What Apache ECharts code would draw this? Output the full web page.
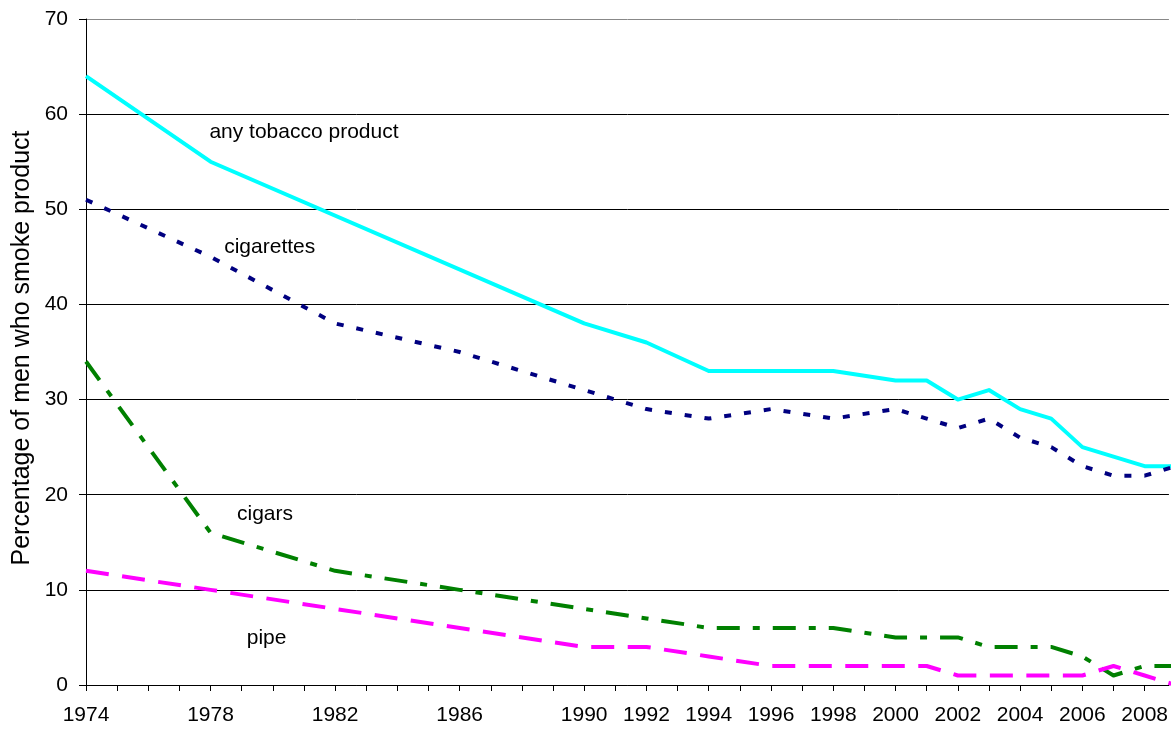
<!DOCTYPE html>
<html>
<head>
<meta charset="utf-8">
<script src="https://cdn.jsdelivr.net/npm/echarts@6/dist/echarts.min.js"></script>
<style>
  html, body { margin: 0; padding: 0; background: #fff; }
  #chart { width: 1171px; height: 729px; }
</style>
</head>
<body>
<div id="chart"></div>
<script>
// Share of men smoking each tobacco product, by survey year
const anyYears      = [1974, 1978, 1990, 1992, 1994, 1996, 1998, 2000, 2001, 2002, 2003, 2004, 2005, 2006, 2007, 2008, 2009];
const anyValues     = [64, 55, 38, 36, 33, 33, 33, 32, 32, 30, 31, 29, 28, 25, 24, 23, 23];

const cigaretteYears  = [1974, 1978, 1982, 1986, 1990, 1992, 1994, 1996, 1998, 2000, 2001, 2002, 2003, 2004, 2005, 2006, 2007, 2008, 2009];
const cigaretteValues = [51, 45, 38, 35, 31, 29, 28, 29, 28, 29, 28, 27, 28, 26, 25, 23, 22, 22, 23];

const cigarYears  = [1974, 1978, 1982, 1986, 1990, 1992, 1994, 1996, 1998, 2000, 2001, 2002, 2003, 2004, 2005, 2006, 2007, 2008, 2009];
const cigarValues = [34, 16, 12, 10, 8, 7, 6, 6, 6, 5, 5, 5, 4, 4, 4, 3, 1, 2, 2];

const pipeYears  = [1974, 1978, 1990, 1992, 1994, 1996, 1998, 2000, 2001, 2002, 2003, 2004, 2005, 2006, 2007, 2008, 2009];
const pipeValues = [12, 10, 4, 4, 3, 2, 2, 2, 2, 1, 1, 1, 1, 1, 2, 1, 0];

const seriesNames = ['any tobacco product', 'cigarettes', 'cigars', 'pipe'];
const yearLabels  = [1974, 1978, 1982, 1986, 1990, 1992, 1994, 1996, 1998, 2000, 2002, 2004, 2006, 2008];
const yTicks      = [0, 10, 20, 30, 40, 50, 60, 70];
const yTitle      = 'Percentage of men who smoke product';

const FONT = "'Liberation Sans', Arial, sans-serif";

function pairs(xs, ys) { return xs.map((x, i) => [x, ys[i]]); }

function lineSeries(name, xs, ys, color, dash) {
  return {
    name: name,
    type: 'line',
    data: pairs(xs, ys),
    symbol: 'none',
    clip: true,
    lineStyle: { color: color, width: 4, type: dash, cap: 'butt', join: 'round' },
    emphasis: { disabled: true }
  };
}

const chart = echarts.init(document.getElementById('chart'), null, { renderer: 'canvas' });

const option = {
  animation: false,
  backgroundColor: '#fff',
  grid: { left: 86, right: 0, top: 19, bottom: 44, containLabel: false },
  xAxis: {
    type: 'value',
    min: 1974,
    max: 2008.78,
    interval: 1,
    axisLine: { show: true, lineStyle: { color: '#000', width: 1 } },
    axisTick: { show: true, length: 6, lineStyle: { color: '#000' } },
    axisLabel: {
      margin: 20,
      fontFamily: FONT,
      fontSize: 21,
      color: '#000',
      showMaxLabel: false,
      formatter: v => (yearLabels.indexOf(v) >= 0 ? String(v) : '')
    },
    splitLine: { show: false }
  },
  yAxis: {
    type: 'value',
    min: yTicks[0],
    max: yTicks[yTicks.length - 1],
    interval: 10,
    axisLine: { show: true, lineStyle: { color: '#000', width: 1 } },
    axisTick: { show: true, length: 7, lineStyle: { color: '#000' } },
    axisLabel: { margin: 18, fontFamily: FONT, fontSize: 21, color: '#000' },
    splitLine: {
      show: true,
      lineStyle: { color: ['#000', '#000', '#000', '#000', '#000', '#000', '#000', '#888'], width: 1 }
    }
  },
  series: [
    lineSeries(seriesNames[0], anyYears, anyValues, '#00FFFF', 'solid'),
    lineSeries(seriesNames[1], cigaretteYears, cigaretteValues, '#000080', [7, 13]),
    lineSeries(seriesNames[2], cigarYears, cigarValues, '#008000', [23, 13, 7, 13]),
    lineSeries(seriesNames[3], pipeYears, pipeValues, '#FF00FF', [23, 13.5])
  ]
};

chart.setOption(option);

// Series captions placed in data space next to each line
const captionAnchors = [
  { name: seriesNames[0], at: [1981.0, 58.1] },
  { name: seriesNames[1], at: [1979.9, 46.0] },
  { name: seriesNames[2], at: [1979.75, 17.9] },
  { name: seriesNames[3], at: [1979.8, 4.9] }
];

const graphics = captionAnchors.map(c => {
  const p = chart.convertToPixel({ gridIndex: 0 }, c.at);
  return {
    type: 'text',
    x: p[0],
    y: p[1],
    silent: true,
    style: {
      text: c.name,
      fill: '#000',
      font: '21px ' + FONT,
      textAlign: 'center',
      textVerticalAlign: 'middle'
    }
  };
});

// Rotated axis title, centred on the plot height
const gridTop = chart.convertToPixel({ gridIndex: 0 }, [1974, yTicks[yTicks.length - 1]])[1];
const gridBottom = chart.convertToPixel({ gridIndex: 0 }, [1974, yTicks[0]])[1];
graphics.push({
  type: 'text',
  x: 22,
  y: (gridTop + gridBottom) / 2 - 4,
  rotation: Math.PI / 2,
  silent: true,
  style: {
    text: yTitle,
    fill: '#000',
    font: '25px ' + FONT,
    textAlign: 'center',
    textVerticalAlign: 'middle'
  }
});

chart.setOption({ graphic: graphics });
</script>
</body>
</html>
